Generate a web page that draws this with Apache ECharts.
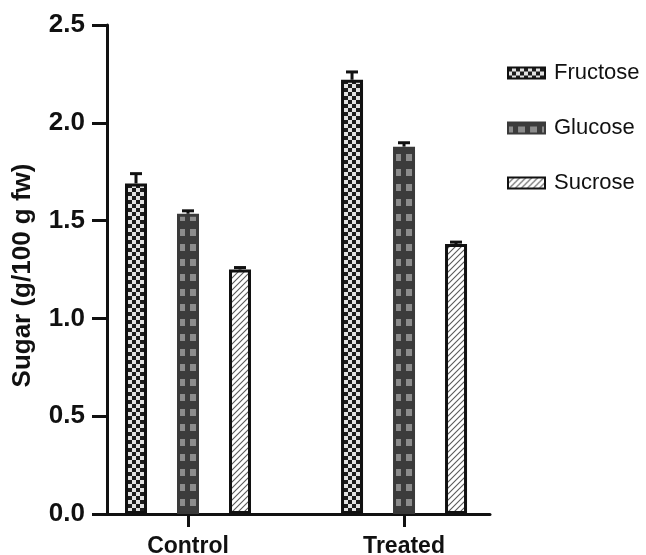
<!DOCTYPE html>
<html>
<head>
<meta charset="utf-8">
<script src="https://cdn.jsdelivr.net/npm/echarts@6/dist/echarts.min.js"></script>
<style>
  html, body { margin: 0; padding: 0; background: #fff; }
  #sugar-chart { width: 646px; height: 555px; }
</style>
</head>
<body>
<div id="sugar-chart"></div>
<script>
// data
var groups = ['Control', 'Treated'];
var groupPos = [1, 2];
var seriesNames = ['Fructose', 'Glucose', 'Sucrose'];
var fructose = [1.69, 2.22];
var glucose = [1.535, 1.878];
var sucrose = [1.25, 1.38];
var fructoseErr = [0.05, 0.04];
var glucoseErr = [0.015, 0.02];
var sucroseErr = [0.01, 0.01];
var yTicks = [0, 0.5, 1.0, 1.5, 2.0, 2.5];

var BAR_W = 22;
var BAR_STEP = 52; // centre to centre inside a group

function makeTile(w, h, draw) {
    var c = document.createElement('canvas');
    c.width = w; c.height = h;
    draw(c.getContext('2d'));
    return c;
}

var checkTile = makeTile(8, 8, function(ctx){
    ctx.fillStyle = '#e2e2e2';
    ctx.fillRect(0, 0, 8, 8);
    ctx.fillStyle = '#1c1c1c';
    ctx.fillRect(0, 0, 4, 4);
    ctx.fillRect(4, 4, 4, 4);
});
var squareTile = makeTile(12, 15, function(ctx){
    ctx.fillStyle = '#3c3c3c';
    ctx.fillRect(0, 0, 12, 15);
    ctx.fillStyle = '#8c8c8c';
    ctx.fillRect(10, 4, 2, 7);
    ctx.fillRect(0, 4, 5, 7);
});
var hatchTile = makeTile(6, 6, function(ctx){
    ctx.fillStyle = '#ffffff';
    ctx.fillRect(0, 0, 6, 6);
    ctx.strokeStyle = '#5a5a5a';
    ctx.lineWidth = 1.1;
    ctx.beginPath();
    ctx.moveTo(-1, 7); ctx.lineTo(7, -1);
    ctx.moveTo(-1, 1); ctx.lineTo(1, -1);
    ctx.moveTo(5, 7); ctx.lineTo(7, 5);
    ctx.stroke();
});

function pairs(vals) {
    return vals.map(function(v, i){ return [groupPos[i], v]; });
}

function errData(vals, errs, k) {
    return vals.map(function(v, i){ return [groupPos[i], v, errs[i], k]; });
}

var fills = [
    { image: checkTile, repeat: 'repeat' },
    { image: squareTile, repeat: 'repeat' },
    { image: hatchTile, repeat: 'repeat' }
];
var borders = ['#111', '#3a3a3a', '#111'];
var values = [fructose, glucose, sucrose];
var errs = [fructoseErr, glucoseErr, sucroseErr];

var series = [];
seriesNames.forEach(function(name, k){
    series.push({
        name: name,
        type: 'bar',
        data: pairs(values[k]),
        barWidth: BAR_W,
        barGap: ((BAR_STEP - BAR_W) / BAR_W * 100) + '%',
        itemStyle: {
            color: fills[k],
            borderColor: borders[k],
            borderWidth: 3
        }
    });
});

var errAll = [];
seriesNames.forEach(function(name, k){
    errAll = errAll.concat(errData(values[k], errs[k], k));
});

series.push({
    name: 'error',
    type: 'custom',
    data: errAll,
    z: 5,
    renderItem: function(params, api){
        var base = api.coord([api.value(0), api.value(1)]);
        var top = api.coord([api.value(0), api.value(1) + api.value(2)]);
        var x = base[0] + (api.value(3) - 1) * BAR_STEP;
        var st = { stroke: '#111', lineWidth: 3 };
        return {
            type: 'group',
            children: [
                { type: 'line', shape: { x1: x, y1: base[1], x2: x, y2: top[1] }, style: st },
                { type: 'line', shape: { x1: x - 6, y1: top[1], x2: x + 6, y2: top[1] }, style: st }
            ]
        };
    }
});

var chart = echarts.init(document.getElementById('sugar-chart'));

var option = {
    animation: false,
    backgroundColor: '#fff',
    textStyle: { fontFamily: 'Liberation Sans, Arial, sans-serif' },
    grid: { left: 107, right: 156, top: 25, bottom: 41, outerBoundsMode: 'none' },
    legend: {
        data: seriesNames,
        orient: 'vertical',
        left: 502,
        top: 57,
        icon: 'rect',
        itemWidth: 37,
        itemHeight: 11,
        itemGap: 33,
        textStyle: { fontSize: 22, color: '#111', padding: [0, 0, 0, 4], fontFamily: 'Liberation Sans, Arial, sans-serif' }
    },
    xAxis: {
        type: 'value',
        min: 0.625,
        max: 2.398,
        splitLine: { show: false },
        axisLine: { onZero: false, lineStyle: { color: '#111', width: 3 } },
        axisTick: { show: true, customValues: groupPos, length: 13, lineStyle: { color: '#111', width: 3 } },
        axisLabel: {
            customValues: groupPos,
            margin: 21,
            fontSize: 23,
            fontWeight: 'bold',
            color: '#111',
            formatter: function(v){ return groups[groupPos.indexOf(v)] || ''; }
        }
    },
    yAxis: {
        type: 'value',
        min: yTicks[0],
        max: yTicks[yTicks.length - 1],
        interval: 0.5,
        name: 'Sugar (g/100 g fw)',
        nameLocation: 'middle',
        nameRotate: 90,
        nameGap: 71,
        nameTextStyle: { fontSize: 26, fontWeight: 'bold', color: '#111', padding: [0, 12, 0, 0] },
        splitLine: { show: false },
        axisLine: { show: true, lineStyle: { color: '#111', width: 3 } },
        axisTick: { show: true, length: 15, lineStyle: { color: '#111', width: 3 } },
        axisLabel: {
            margin: 22,
            fontSize: 26,
            fontWeight: 'bold',
            color: '#111',
            formatter: function(v){ return v.toFixed(1); }
        }
    },
    series: series
};

chart.setOption(option);
</script>
</body>
</html>
